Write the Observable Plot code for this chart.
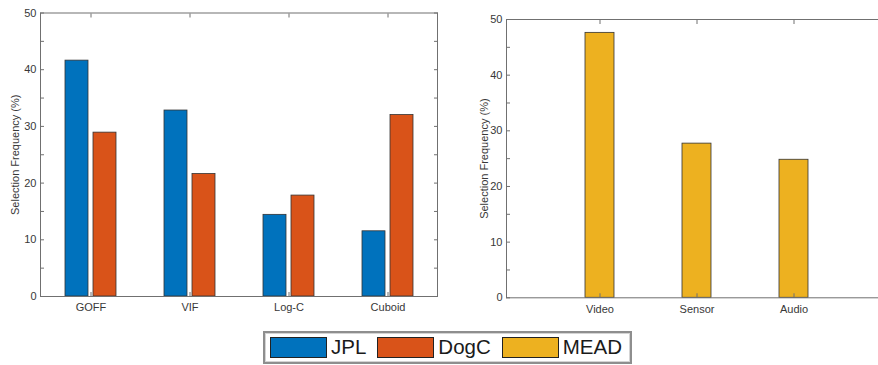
<!DOCTYPE html>
<html>
<head>
<meta charset="utf-8">
<script src="https://cdn.jsdelivr.net/npm/d3@7"></script>
<script src="https://cdn.jsdelivr.net/npm/@observablehq/plot@0.6"></script>
<style>
  html, body { margin: 0; padding: 0; background: #fff; overflow: hidden; width: 878px; height: 365px; }
  #wrap { position: relative; width: 878px; height: 365px; overflow: hidden; font-family: "Liberation Sans", Arial, sans-serif; }
  #left { position: absolute; left: 0; top: 0; width: 445px; }
  #right { position: absolute; left: 440px; top: 0; width: 447px; }
  #legend {
    position: absolute; left: 263px; top: 331px; width: 369px; height: 33px;
    box-sizing: border-box; border: 2px solid #8e8e8e; box-shadow: inset 0 0 0 1px #d4d4d4;
    display: flex; align-items: center; padding-left: 5px; background: #fff;
  }
  .item { display: flex; align-items: center; margin-right: 11px; }
  .swatch { width: 55px; height: 19px; border: 1px solid #222; margin-right: 4px; }
  .name { font-size: 20.5px; color: #1a1a1a; line-height: 1; }
</style>
</head>
<body>
<div id="wrap">
  <div id="left"></div>
  <div id="right"></div>
  <div id="legend"></div>
</div>
<script>
// Feature-detection methods (left panel)
const methods = ["GOFF", "VIF", "Log-C", "Cuboid"];
const jplValues = [41.6, 32.8, 14.4, 11.5];
const dogcValues = [28.9, 21.6, 17.8, 32.0];

// Modalities (right panel)
const modalities = ["Video", "Sensor", "Audio"];
const meadValues = [47.6, 27.7, 24.8];

// Legend entries
const seriesNames = ["JPL", "DogC", "MEAD"];
const seriesColors = ["#0072BD", "#D95319", "#EDB120"];

// Axis ticks
const yLabels = [0, 10, 20, 30, 40, 50];
const yMarks = [0, 5, 10, 15, 20, 25, 30, 35, 40, 45, 50];
const yTitle = "Selection Frequency (%)";

const jplRows = methods.map((m, i) => ({key: m, value: jplValues[i]}));
const dogcRows = methods.map((m, i) => ({key: m, value: dogcValues[i]}));
const meadRows = modalities.map((m, i) => ({key: m, value: meadValues[i]}));

const boxColor = "#707070";
const textColor = "#383838";
const edgeColor = "#333";
const baseStyle = {
  fontFamily: "'Liberation Sans', Arial, sans-serif", fontSize: "11px", color: textColor,
  background: "white", overflow: "visible", maxWidth: "none"
};

// Inward ticks on every side of the box plus outside labels, MATLAB-style
function boxAxes(categories, titleDx) {
  return [
    Plot.frame({stroke: boxColor, strokeWidth: 1}),
    Plot.axisY(yMarks, {tickSize: 4, insetLeft: 4, fill: "none", stroke: boxColor, label: null}),
    Plot.axisY(yMarks, {anchor: "right", tickSize: 4, insetRight: 4, fill: "none", stroke: boxColor, label: null}),
    Plot.axisY(yLabels, {tickSize: 0, tickPadding: 4, fill: textColor, label: null, fontSize: 11}),
    Plot.axisX(categories, {tickSize: 4, insetBottom: 4, fill: "none", stroke: boxColor, label: null}),
    Plot.axisX(categories, {anchor: "top", tickSize: 4, insetTop: 4, fill: "none", stroke: boxColor, label: null}),
    Plot.axisX(categories, {tickSize: 0, tickPadding: 7, fill: textColor, label: null, fontSize: 11}),
    Plot.text([yTitle], {frameAnchor: "left", textAnchor: "middle", rotate: -90, dx: titleDx, text: d => d, fill: textColor, fontSize: 11})
  ];
}

const left = Plot.plot({
  width: 445, height: 320,
  marginLeft: 40, marginRight: 8, marginTop: 12.5, marginBottom: 24,
  x: {domain: methods, paddingInner: 0.77, paddingOuter: 0.385},
  y: {domain: [0, 50]},
  style: baseStyle,
  marks: [
    Plot.barY(jplRows, {x: "key", y: "value", dx: -14, fill: seriesColors[0], stroke: edgeColor, strokeWidth: 0.8}),
    Plot.barY(dogcRows, {x: "key", y: "value", dx: 14, fill: seriesColors[1], stroke: edgeColor, strokeWidth: 0.8}),
    ...boxAxes(methods, -25)
  ]
});
document.getElementById("left").append(left);

const right = Plot.plot({
  width: 447, height: 320,
  marginLeft: 66, marginRight: 0, marginTop: 19, marginBottom: 22.7,
  x: {domain: modalities, paddingInner: 0.7, paddingOuter: 0.8},
  y: {domain: [0, 50]},
  style: baseStyle,
  marks: [
    Plot.barY(meadRows, {x: "key", y: "value", fill: seriesColors[2], stroke: edgeColor, strokeWidth: 0.8}),
    ...boxAxes(modalities, -22)
  ]
});
document.getElementById("right").append(right);

// Shared legend below both panels
const legend = d3.select("#legend");
const items = legend.selectAll(".item").data(seriesNames).join("div").attr("class", "item");
items.append("div").attr("class", "swatch").style("background", (d, i) => seriesColors[i]);
items.append("span").attr("class", "name").text(d => d);
</script>
</body>
</html>
